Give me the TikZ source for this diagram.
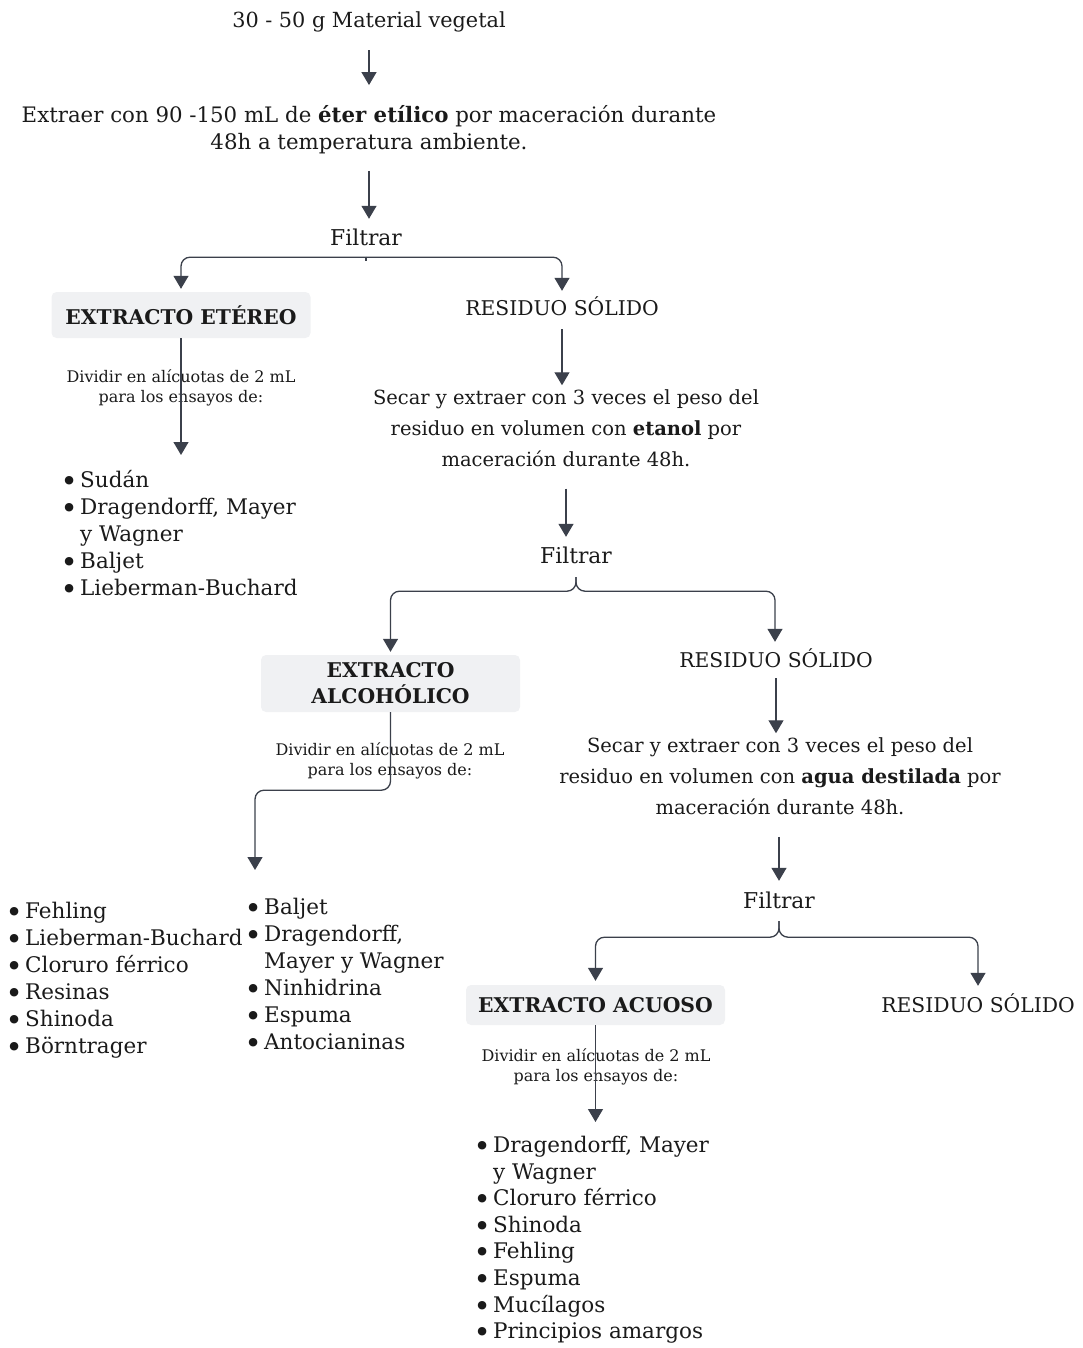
\documentclass[tikz,border=0pt]{standalone}
\usepackage{fontspec}
\usepackage{graphicx}
\setmainfont{DejaVu Serif}
\usetikzlibrary{arrows.meta}
\definecolor{arrc}{HTML}{3B404B}
\definecolor{boxg}{HTML}{F0F1F3}
\definecolor{txtc}{HTML}{1A1A1A}
\newcommand\bul{\makebox[15pt][l]{\hspace*{-4.5pt}\raisebox{-4pt}{\scalebox{1.35}{•}}}}
\newcommand\ind{\hspace*{15pt}}
\tikzset{
  txt/.style={inner sep=0pt, text=txtc, font=\fontsize{21}{27}\selectfont},
  one/.style={txt, text height=15pt, text depth=5pt},
  para/.style={txt, align=center, font=\fontsize{19.5}{31}\selectfont},
  small/.style={inner sep=0pt, text=txtc, align=center, font=\fontsize{16}{20}\selectfont},
  lst/.style={txt, align=left, anchor=north west, font=\fontsize{21.5}{27}\selectfont},
  gbox/.style={fill=boxg, rounded corners=5pt, minimum width=259pt, inner sep=0pt, text=txtc, align=center, font=\fontsize{20.3}{26}\selectfont\bfseries},
  ln/.style={draw=arrc, line width=1.3pt},
  arr/.style={ln, -{Triangle[width=15pt,length=13pt]}},
}
\begin{document}
\begin{tikzpicture}[x=1pt,y=-1pt]
\useasboundingbox (0,0) rectangle (1083,1348);
% --- nodes
\node[one, font=\fontsize{20.8}{27}\selectfont] (mat) at (369,23) {30 - 50 g Material vegetal};
\node[txt, align=center, font=\fontsize{21.3}{27}\selectfont] (ext) at (369,129.5) {Extraer con 90 -150 mL de \textbf{éter etílico} por maceración durante\\48h a temperatura ambiente.};
\node[one, font=\fontsize{21.8}{27}\selectfont] (f1) at (366,241) {Filtrar};
\node[gbox, minimum height=46pt] (ete) at (181,315) {EXTRACTO ETÉREO};
\node[one, font=\fontsize{20.3}{27}\selectfont] (r1) at (562,310) {RESIDUO SÓLIDO};
\node[small] (d1) at (181,388) {Dividir en alícuotas de 2 mL\\para los ensayos de:};
\node[lst] (l1) at (65,470) {\bul Sudán\\\bul Dragendorff, Mayer\\\ind y Wagner\\\bul Baljet\\\bul Lieberman-Buchard};
\node[para] (s1) at (566,428) {Secar y extraer con 3 veces el peso del\\residuo en volumen con \textbf{etanol} por\\maceración durante 48h.};
\node[one, font=\fontsize{21.8}{27}\selectfont] (f2) at (576,558) {Filtrar};
\node[gbox, minimum height=57pt] (alc) at (390.5,683.5) {EXTRACTO\\ALCOHÓLICO};
\node[one, font=\fontsize{20.3}{27}\selectfont] (r2) at (776,662) {RESIDUO SÓLIDO};
\node[small] (d2) at (390,760.5) {Dividir en alícuotas de 2 mL\\para los ensayos de:};
\node[lst] (l2a) at (10,902) {\bul Fehling\\\bul Lieberman-Buchard\\\bul Cloruro férrico\\\bul Resinas\\\bul Shinoda\\\bul Börntrager};
\node[lst] (l2b) at (249,898) {\bul Baljet\\\bul Dragendorff,\\\ind Mayer y Wagner\\\bul Ninhidrina\\\bul Espuma\\\bul Antocianinas};
\node[para] (s2) at (780,776) {Secar y extraer con 3 veces el peso del\\residuo en volumen con \textbf{agua destilada} por\\maceración durante 48h.};
\node[one, font=\fontsize{21.8}{27}\selectfont] (f3) at (779,903) {Filtrar};
\node[gbox, minimum height=40pt] (acu) at (595.5,1005) {EXTRACTO ACUOSO};
\node[one, font=\fontsize{20.3}{27}\selectfont] (r3) at (978,1007) {RESIDUO SÓLIDO};
\node[small] (d3) at (596,1067) {Dividir en alícuotas de 2 mL\\para los ensayos de:};
\node[lst, font=\fontsize{21.5}{26.6}\selectfont] (l3) at (478,1136) {\bul Dragendorff, Mayer\\\ind y Wagner\\\bul Cloruro férrico\\\bul Shinoda\\\bul Fehling\\\bul Espuma\\\bul Mucílagos\\\bul Principios amargos};
\coordinate (alcend) at (255,870);
% --- connectors
\draw[arr, shorten <=17pt, shorten >=20pt] (mat.south) -- (ext.north);
\draw[arr, shorten <=17pt, shorten >=12pt] (ext.south) -- (ext.south |- f1.north);
\draw[arr, rounded corners=9pt] ([yshift=-6pt]f1.south) -| ([yshift=3pt]ete.north);
\draw[arr, rounded corners=9pt] ([yshift=-6pt]f1.south) -| ([yshift=9pt]r1.north);
\draw[ln] ([yshift=-6pt]f1.south) -- ([yshift=-10pt]f1.south);
\draw[arr, shorten >=3pt] (ete.south) -- ([yshift=12pt]l1.north -| ete.south);
\draw[arr, shorten <=9pt, shorten >=4pt] (r1.south) -- (r1.south |- s1.north);
\draw[arr, shorten <=22pt, shorten >=11pt] (s1.south) -- (s1.south |- f2.north);
\draw[arr, rounded corners=9pt] ([yshift=-9pt]f2.south) -- ([yshift=-23pt]f2.south) -| ([yshift=3pt]alc.north);
\draw[arr, rounded corners=9pt] ([yshift=-9pt]f2.south) -- ([yshift=-23pt]f2.south) -| ([xshift=-1pt,yshift=10pt]r2.north);
\draw[arr, rounded corners=9pt] (alc.south) -- ++(0,78) -| (alcend);
\draw[arr, shorten <=6pt, shorten >=4pt] (r2.south) -- (s2.north -| r2.south);
\draw[arr, shorten <=22pt, shorten >=12pt] (s2.south -| f3.north) -- (f3.north);
\draw[arr, rounded corners=9pt] ([yshift=-8pt]f3.south) -- ([yshift=-24pt]f3.south) -| ([yshift=4pt]acu.north);
\draw[arr, rounded corners=9pt] ([yshift=-8pt]f3.south) -- ([yshift=-24pt]f3.south) -| ([yshift=11pt]r3.north);
\draw[arr, shorten >=4pt] (acu.south) -- ([yshift=10pt]l3.north -| acu.south);
\end{tikzpicture}
\end{document}
